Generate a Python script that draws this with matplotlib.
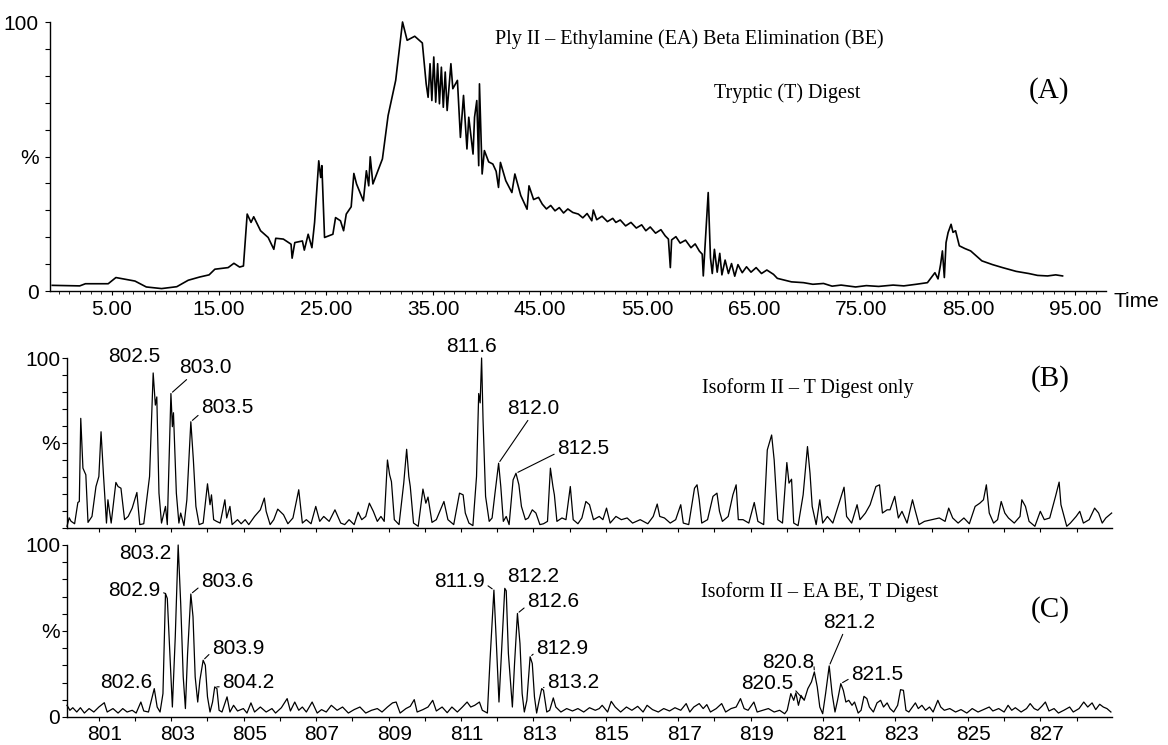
import matplotlib
matplotlib.use("Agg")
import matplotlib.pyplot as plt
from matplotlib.ticker import MultipleLocator
import matplotlib.transforms as mtransforms

# ---------------- data ----------------
# Panel A: total ion chromatogram (time in min, relative intensity %)
A_TIME = [-0.59, 1.98, 2.51, 4.64, 5.36, 7.14, 8.20, 9.63, 11.05, 12.12, 13.19, 14.07, 14.61,
          15.85, 16.39, 16.92, 17.28, 17.63, 17.99, 18.24, 18.88, 19.59, 20.12, 20.30, 21.01,
          21.73, 21.83, 22.08, 22.79, 22.97, 23.33, 23.68, 23.93, 24.32, 24.50, 24.61, 24.86,
          25.64, 25.89, 26.35, 26.64, 26.89, 27.35, 27.60, 27.85, 28.49, 28.77, 28.99, 29.13,
          29.38, 30.27, 30.80, 31.51, 32.15, 32.58, 33.29, 34.00, 34.36, 34.54, 34.72, 34.89,
          35.07, 35.25, 35.43, 35.60, 35.78, 35.96, 36.14, 36.32, 36.67, 36.85, 37.28, 37.56,
          37.85, 38.17, 38.34, 38.74, 38.88, 39.09, 39.27, 39.34, 39.59, 39.80, 40.2, 40.59,
          40.9, 41.12, 41.30, 41.8, 42.37, 42.65, 43.2, 43.79, 43.97, 44.4, 44.86, 45.21,
          45.6, 46.0, 46.4, 46.8, 47.2, 47.6, 48.06, 48.58, 49.0, 49.4, 49.84, 49.98, 50.3,
          50.8, 51.3, 51.8, 52.09, 52.5, 53.0, 53.5, 54.0, 54.5, 54.89, 55.3, 55.8, 56.3,
          56.7, 57.0, 57.18, 57.3, 57.7, 58.1, 58.6, 59.11, 59.5, 59.9, 60.16, 60.26, 60.4,
          60.72, 60.93, 61.1, 61.3, 61.56, 61.8, 62.0, 62.3, 62.61, 62.9, 63.2, 63.5, 63.9,
          64.3, 64.72, 65.2, 65.7, 66.2, 66.82, 67.18, 67.7, 68.5, 69.63, 70.5, 71.5, 72.3,
          73.14, 74.5, 75.5, 76.65, 78.0, 79.0, 80.16, 81.21, 81.91, 82.2, 82.44, 82.61,
          82.79, 82.95, 83.14, 83.42, 83.6, 83.84, 84.19, 84.7, 85.25, 86.30, 87.3, 88.23,
          89.5, 90.68, 91.5, 92.44, 93.2, 93.84]
A_INT = [2.1, 1.9, 2.7, 2.7, 5.0, 3.7, 1.5, 0.9, 1.6, 4.0, 5.2, 6.0, 8.1,
         8.7, 10.3, 8.9, 9.3, 28.6, 25.5, 27.6, 22.4, 19.9, 15.5, 19.6, 19.3,
         17.4, 12.2, 18.0, 18.6, 15.2, 21.1, 16.1, 25.5, 48.4, 42.2, 46.6, 19.9,
         21.1, 27.3, 26.1, 22.4, 28.6, 31.3, 43.7, 39.8, 33.5, 44.7, 39.1, 49.9,
         39.8, 49.1, 65.2, 78.3, 100.0, 93.2, 94.7, 92.2, 77.0, 72.0, 84.5, 70.8,
         87.0, 70.2, 84.5, 69.6, 83.2, 68.3, 81.4, 67.1, 84.5, 75.2, 78.3, 57.1,
         72.7, 52.8, 64.6, 50.9, 64.6, 70.8, 46.6, 77.0, 43.5, 52.2, 48.0, 47.2,
         44.5, 38.5, 47.8, 41.0, 36.6, 43.5, 35.5, 30.4, 39.1, 34.0, 34.8, 32.3,
         30.5, 31.8, 29.8, 31.0, 29.0, 30.5, 29.2, 28.6, 27.2, 28.8, 26.1, 30.1, 26.5,
         27.8, 25.8, 27.0, 25.5, 26.4, 24.2, 25.5, 23.4, 24.6, 22.4, 23.8, 21.5, 22.8,
         20.5, 19.3, 8.7, 19.0, 20.2, 17.8, 18.9, 16.1, 17.5, 14.8, 13.7, 5.6, 14.9,
         36.6, 12.4, 6.5, 15.5, 7.0, 14.0, 6.0, 11.5, 6.5, 10.2, 5.5, 9.8, 6.8,
         9.0, 7.0, 8.7, 6.5, 7.8, 6.2, 4.7, 4.2, 3.4, 3.1, 2.5, 2.8, 1.8,
         2.2, 1.5, 2.0, 1.7, 2.2, 1.9, 2.5, 3.1, 6.8, 4.5, 9.9, 14.9,
         5.0, 18.0, 21.7, 24.8, 21.8, 22.4, 16.8, 15.8, 14.9, 11.2, 9.8, 8.7,
         7.3, 6.5, 5.8, 5.6, 6.0, 5.6]
A_TICKS = [5, 15, 25, 35, 45, 55, 65, 75, 85, 95]

# Panel B: Isoform II - T digest only (m/z, %)
B_MZ = [800.12, 800.18, 800.23, 800.33, 800.42, 800.46, 800.50, 800.56, 800.60, 800.64, 800.70,
        800.81, 800.92, 801.00, 801.06, 801.13, 801.21, 801.25, 801.34, 801.47, 801.53, 801.61,
        801.71, 801.81, 801.92, 802.05, 802.13, 802.24, 802.40, 802.50, 802.56, 802.60, 802.66,
        802.73, 802.84, 802.89, 802.99, 803.03, 803.06, 803.14, 803.21, 803.26, 803.35, 803.43,
        803.54, 803.61, 803.68, 803.77, 803.88, 804.00, 804.07, 804.11, 804.17, 804.25, 804.35,
        804.48, 804.53, 804.62, 804.68, 804.83, 804.93, 805.04, 805.14, 805.30, 805.46, 805.57,
        805.62, 805.73, 805.83, 805.94, 806.10, 806.22, 806.36, 806.52, 806.62, 806.73, 806.86,
        806.99, 807.10, 807.21, 807.36, 807.52, 807.68, 807.79, 807.91, 808.05, 808.16, 808.26,
        808.37, 808.47, 808.58, 808.69, 808.79, 808.88, 808.97, 809.03, 809.08, 809.16, 809.29,
        809.42, 809.50, 809.56, 809.60, 809.69, 809.82, 809.95, 810.03, 810.09, 810.20, 810.32,
        810.53, 810.64, 810.80, 810.96, 811.06, 811.12, 811.22, 811.33, 811.43, 811.49, 811.53,
        811.57, 811.61, 811.68, 811.78, 811.86, 811.94, 812.04, 812.10, 812.17, 812.25, 812.33,
        812.44, 812.52, 812.60, 812.67, 812.78, 812.86, 812.97, 813.07, 813.18, 813.28, 813.39,
        813.47, 813.54, 813.58, 813.65, 813.79, 813.90, 814.02, 814.10, 814.23, 814.34, 814.45,
        814.55, 814.66, 814.82, 814.92, 815.02, 815.12, 815.28, 815.43, 815.59, 815.74, 815.95,
        816.16, 816.31, 816.42, 816.49, 816.62, 816.78, 816.93, 817.07, 817.14, 817.29, 817.45,
        817.52, 817.58, 817.65, 817.81, 817.96, 818.07, 818.14, 818.22, 818.38, 818.51, 818.60,
        818.66, 818.79, 818.95, 819.10, 819.20, 819.36, 819.46, 819.58, 819.65, 819.75, 819.88,
        820.00, 820.06, 820.13, 820.19, 820.31, 820.45, 820.57, 820.64, 820.70, 820.81, 820.91,
        820.99, 821.12, 821.27, 821.43, 821.58, 821.65, 821.79, 821.94, 822.02, 822.17, 822.30,
        822.46, 822.56, 822.64, 822.77, 822.85, 822.98, 823.08, 823.18, 823.32, 823.47, 823.54,
        823.65, 823.80, 824.01, 824.21, 824.37, 824.47, 824.58, 824.73, 824.89, 825.04, 825.20,
        825.33, 825.43, 825.51, 825.59, 825.71, 825.82, 825.92, 826.02, 826.12, 826.28, 826.44,
        826.49, 826.59, 826.69, 826.85, 827.00, 827.11, 827.26, 827.42, 827.52, 827.57, 827.73,
        827.83, 827.99, 828.09, 828.19, 828.35, 828.50, 828.61, 828.71, 828.81, 828.97]
B_INT = [1, 6, 4, 2.5, 15, 15.6, 64.5, 35.2, 33.2, 31.3, 3.3,
         6.8, 24.4, 30.3, 56.6, 30.3, 2.9, 16.6, 2.9, 26.8, 24.4, 23.4,
         4.9, 6.8, 11.7, 20.9, 2, 2.5, 30.3, 91.2, 72.3, 77.1, 20.5,
         2.9, 12.7, 2, 79.1, 59.6, 67.8, 20.5, 2.9, 8.8, 1.4, 16.6,
         62.5, 40, 12.7, 2, 2.9, 26, 13.7, 19.5, 4.9, 3.9, 2.9,
         16.6, 5.9, 12.7, 2, 4.9, 2.5, 4.9, 2, 6.8, 10.7, 17.6,
         9.8, 2, 4.9, 11.1, 7.8, 2.5, 5.9, 22.5, 2.9, 4.9, 2.5,
         12.7, 3.9, 6.8, 3.9, 10.7, 2.9, 2, 4.9, 2, 9.3, 4.9,
         6.8, 14.6, 9.8, 3.9, 6.8, 3.9, 40, 31.3, 27.3, 4.9, 2,
         26.4, 46.3, 30.3, 24.4, 2.9, 1, 22.9, 14.6, 18.2, 3.3, 4.9,
         15.6, 4.9, 2, 20.5, 19.5, 8.8, 2.9, 1.4, 30.3, 79.1, 73.6,
         100, 63.5, 18.6, 3.9, 5.9, 20.5, 38.1, 24.4, 3.9, 6.8, 2,
         28.3, 32.2, 25.4, 12.7, 4.9, 5.9, 10.7, 8.8, 2, 2.5, 3.9,
         35.2, 24.4, 19.5, 3.9, 5.9, 4.9, 24.4, 4.9, 2.5, 5.9, 15.6,
         13.7, 4.9, 6.8, 4.9, 11.7, 2.9, 6.8, 4.9, 5.9, 2.9, 4.9,
         2.5, 6.8, 14.1, 6.8, 5.9, 2.9, 4.9, 13.7, 2.9, 2, 23.4,
         25.4, 16.6, 2.9, 4.9, 18.6, 20.5, 9.8, 3.9, 6.8, 19.5, 25.4,
         4.9, 4.9, 2.9, 15, 3.9, 2, 45.9, 54.7, 40, 4.9, 2.9,
         38.5, 26.4, 28.7, 2.9, 1.4, 19.5, 47.9, 32.2, 12.7, 2, 16.6,
         2.9, 6.8, 2.9, 13.7, 24, 6.8, 2.9, 13.7, 4.9, 8.8, 13.7,
         24.4, 25.4, 8.8, 10.7, 10.7, 18.6, 5.9, 9.8, 2.9, 16.6, 10.7,
         2, 3.9, 4.9, 5.9, 3.9, 11.7, 5.9, 2.9, 5.9, 2.5, 12.7,
         14.6, 16.6, 25.4, 8.8, 2.9, 4.9, 15.6, 8.8, 5.9, 2.9, 6.8,
         16.6, 12.7, 3.9, 1, 9.8, 4.9, 5.9, 18.6, 27, 13.7, 1,
         2.9, 6.8, 9.8, 2.9, 4.9, 11.7, 8.8, 2.9, 5.9, 8.8]

# Panel C: Isoform II - EA BE, T digest (m/z, %)
C_MZ = [800.12, 800.20, 800.28, 800.39, 800.49, 800.60, 800.73, 800.86, 801.00, 801.15, 801.23,
        801.39, 801.53, 801.66, 801.78, 801.92, 802.03, 802.16, 802.24, 802.37, 802.45, 802.53,
        802.61, 802.69, 802.77, 802.84, 802.89, 802.97, 803.03, 803.11, 803.19, 803.26, 803.33,
        803.39, 803.45, 803.54, 803.60, 803.66, 803.73, 803.79, 803.88, 803.94, 804.00, 804.07,
        804.14, 804.20, 804.26, 804.32, 804.40, 804.54, 804.62, 804.72, 804.83, 804.99, 805.09,
        805.20, 805.30, 805.46, 805.62, 805.78, 805.88, 806.04, 806.20, 806.29, 806.41, 806.52,
        806.62, 806.73, 806.89, 807.03, 807.15, 807.28, 807.42, 807.58, 807.73, 807.89, 808.05,
        808.21, 808.37, 808.53, 808.69, 808.82, 808.97, 809.11, 809.21, 809.32, 809.48, 809.60,
        809.71, 809.79, 809.95, 810.09, 810.22, 810.32, 810.48, 810.62, 810.75, 810.90, 811.04,
        811.17, 811.27, 811.38, 811.51, 811.59, 811.68, 811.73, 811.80, 811.91, 811.97, 812.05,
        812.14, 812.21, 812.25, 812.31, 812.42, 812.48, 812.56, 812.63, 812.69, 812.75, 812.82,
        812.91, 812.97, 813.03, 813.09, 813.16, 813.23, 813.28, 813.37, 813.45, 813.55, 813.62,
        813.76, 813.92, 814.08, 814.23, 814.39, 814.55, 814.71, 814.82, 814.90, 815.05, 815.15,
        815.26, 815.41, 815.57, 815.72, 815.88, 816.03, 816.14, 816.29, 816.45, 816.60, 816.76,
        816.91, 817.07, 817.22, 817.32, 817.43, 817.58, 817.69, 817.79, 817.89, 818.05, 818.20,
        818.31, 818.46, 818.60, 818.72, 818.82, 818.93, 819.09, 819.18, 819.34, 819.49, 819.65,
        819.80, 819.94, 820.01, 820.11, 820.19, 820.25, 820.32, 820.39, 820.48, 820.58, 820.68,
        820.76, 820.84, 820.91, 820.99, 821.07, 821.17, 821.25, 821.33, 821.40, 821.49, 821.56,
        821.63, 821.71, 821.80, 821.87, 821.97, 822.05, 822.13, 822.21, 822.28, 822.39, 822.49,
        822.59, 822.67, 822.77, 822.85, 822.95, 823.06, 823.14, 823.22, 823.29, 823.37, 823.47,
        823.55, 823.63, 823.73, 823.83, 823.94, 824.04, 824.17, 824.25, 824.35, 824.50, 824.66,
        824.81, 824.97, 825.12, 825.28, 825.43, 825.59, 825.69, 825.85, 826.00, 826.11, 826.21,
        826.31, 826.47, 826.62, 826.72, 826.83, 826.93, 827.04, 827.14, 827.24, 827.38, 827.50,
        827.65, 827.81, 827.91, 828.07, 828.20, 828.31, 828.43, 828.53, 828.64, 828.74, 828.84,
        828.95]
C_INT = [6.8, 3.9, 5.4, 2.9, 5.4, 2.3, 4.9, 2.9, 5.8, 8.3, 2.9,
         4.9, 2.3, 4.9, 2.9, 3.9, 2.3, 8.7, 3.5, 2.9, 9.7, 16.5,
         5.8, 2.9, 13.6, 71.8, 68.9, 33, 5.8, 46.6, 100, 66, 23.3,
         4.9, 36.9, 71.5, 58.3, 23.3, 8.7, 21.4, 33, 30.1, 11.7, 2.9,
         8.7, 17.5, 16.5, 3.9, 2.9, 11.7, 2.9, 6.8, 3.5, 4.9, 2.3,
         8.2, 2.9, 5.8, 2.9, 4.9, 2.3, 5.4, 10.7, 3.5, 8.7, 3.9,
         5.8, 2.9, 8.7, 2.3, 4.3, 2.9, 6.8, 3.9, 5.8, 2.3, 4.3,
         5.8, 2.3, 3.9, 4.9, 2.9, 5.8, 8.2, 8.7, 2.3, 4.9, 6.2,
         10.1, 2.9, 4.3, 5.8, 9.7, 3.5, 5.8, 2.5, 5.8, 2.9, 5.8,
         8.7, 5.8, 6.8, 8.7, 3.9, 2.9, 2.3, 32, 73.8, 46.6, 8.7,
         46.6, 74.8, 73.4, 36.9, 5.8, 31.1, 60.2, 42.7, 13.6, 2.9, 9.7,
         35, 31.1, 11.7, 2.3, 9.7, 16.5, 15.5, 2.9, 3.9, 11.1, 5.8,
         2.9, 4.9, 3.5, 4.9, 2.9, 5.4, 3.9, 4.9, 6.8, 2.9, 9.1,
         5.8, 2.9, 5.8, 3.9, 6.2, 2.9, 6.8, 4.3, 2.9, 4.9, 3.5,
         5.4, 3.9, 7.8, 2.9, 5.8, 7.8, 4.9, 7.2, 2.9, 4.9, 7.8,
         2.9, 4.9, 5.8, 10.7, 4.9, 3.9, 8.7, 2.9, 3.9, 4.9, 2.9,
         3.9, 1.9, 3.9, 13.6, 9.7, 14, 6.8, 12.6, 9.7, 16.5, 20.4,
         26.2, 17.5, 5.8, 1.9, 13.6, 29.7, 13.6, 2.9, 9.7, 19.4, 15.5,
         8.7, 9.7, 6.8, 8.7, 2.3, 3.9, 12, 10.7, 5.8, 2.9, 8.2,
         9.7, 5.8, 8.2, 4.9, 2.9, 6.8, 15.9, 15.5, 3.9, 2.9, 5.8,
         8.2, 4.9, 6.8, 3.9, 5.8, 2.9, 9.7, 5.8, 3.9, 4.9, 2.9,
         4.3, 2.3, 4.9, 2.9, 4.3, 5.8, 3.5, 4.9, 2.9, 6.8, 3.9,
         5.4, 2.9, 4.9, 7.8, 4.9, 3.9, 6.2, 8.7, 3.5, 4.9, 2.3,
         3.9, 5.8, 2.9, 4.9, 8.7, 5.8, 8.2, 4.3, 7.4, 5.8, 4.9,
         2.9]
MZ_TICKS = list(range(801, 829))
MZ_LABELS = [str(v) if v % 2 == 1 else "" for v in MZ_TICKS]

# peak labels: text, peak m/z, peak %, text position (m/z, %), leader relpos (None = no leader)
B_LABELS = ["802.5", "803.0", "803.5", "811.6", "812.0", "812.5"]
B_PEAK_MZ = [802.50, 802.99, 803.54, 811.57, 812.04, 812.52]
B_PEAK_INT = [91.2, 79.1, 62.5, 100, 38.1, 32.2]
B_TEXT_POS = [(801.99, 101.0), (803.93, 94.5), (804.54, 71.0), (811.30, 106.5), (812.99, 70.5), (814.37, 47.0)]
B_RELPOS = [None, (0.25, 0.1), (0.0, 0.2), None, (0.45, 0.05), (0.0, 0.25)]

C_LABELS = ["803.2", "802.9", "803.6", "803.9", "804.2", "802.6",
            "811.9", "812.2", "812.6", "812.9", "813.2",
            "821.2", "820.8", "820.5", "821.5"]
C_PEAK_MZ = [803.19, 802.84, 803.54, 803.88, 804.20, 802.53,
             811.91, 812.21, 812.56, 812.91, 813.23,
             821.17, 820.76, 820.48, 821.49]
C_PEAK_INT = [100, 71.8, 71.5, 33, 17.5, 16.5,
              73.8, 74.8, 60.2, 35, 16.5,
              29.7, 26.2, 9.7, 19.4]
C_TEXT_POS = [(802.27, 95.3), (801.99, 73.3), (804.54, 78.5), (804.84, 40.1), (805.12, 19.8), (801.75, 19.8),
              (810.97, 78.5), (812.99, 81.4), (813.54, 66.9), (813.79, 40.1), (814.09, 20.3),
              (821.72, 55.2), (820.03, 31.4), (819.45, 19.2), (822.49, 25.0)]
C_RELPOS = [None, (1.0, 0.45), (0.0, 0.3), (0.0, 0.3), (0.0, 0.3), None,
            (1.0, 0.4), None, (0.0, 0.3), (0.0, 0.3), (0.0, 0.3),
            (0.4, 0.0), (1.0, 0.3), (1.0, 0.3), (0.0, 0.3)]

# ---------------- drawing ----------------
SANS = "Liberation Sans"
SERIF = "Liberation Serif"
FS = 15

W, H = 1168, 745
fig = plt.figure(figsize=(W / 100, H / 100), dpi=100)

axA = fig.add_axes([50 / W, 1 - 291 / H, 1056 / W, 269 / H])
axB = fig.add_axes([67 / W, 1 - 528 / H, 1045 / W, 170 / H])
axC = fig.add_axes([67 / W, 1 - 717 / H, 1045 / W, 172 / H])


def style_axis(ax, ylabels, ypad):
    for s in ("top", "right"):
        ax.spines[s].set_visible(False)
    for s in ("left", "bottom"):
        ax.spines[s].set_linewidth(1.0)
    ax.set_ylim(0, 100)
    ax.set_yticks(list(range(0, 101, 10)))
    ax.set_yticklabels(ylabels, fontfamily=SANS, fontsize=FS)
    ax.tick_params(axis="y", direction="out", length=3.5, width=0.8, pad=ypad)


ylabA = ["0", "", "", "", "", "%", "", "", "", "", "100"]
ylabB = ["", "", "", "", "", "%", "", "", "", "", "100"]
ylabC = ["0", "", "", "", "", "%", "", "", "", "", "100"]

# Panel A
axA.plot(A_TIME, A_INT, color="black", lw=1.2, clip_on=False)
axA.set_xlim(-0.8, 97.9)
style_axis(axA, ylabA, 4.5)
axA.set_xticks(A_TICKS)
axA.set_xticklabels([f"{t:.2f}" for t in A_TICKS], fontfamily=SANS, fontsize=FS)
axA.xaxis.set_minor_locator(MultipleLocator(1))
axA.tick_params(axis="x", which="major", direction="out", length=3, width=0.8, pad=3.5)
axA.tick_params(axis="x", which="minor", direction="out", length=2, width=0.6)
fig.text(1136 / W, 1 - 301 / H, "Time", ha="center", va="center", fontfamily=SANS, fontsize=FS)
axA.text(0.605, 0.935, "Ply II \u2013 Ethylamine (EA) Beta Elimination (BE)", transform=axA.transAxes,
         ha="center", va="center", fontfamily=SERIF, fontsize=14.5)
axA.text(0.698, 0.735, "Tryptic (T) Digest", transform=axA.transAxes,
         ha="center", va="center", fontfamily=SERIF, fontsize=14.5)
axA.text(0.946, 0.745, "(A)", transform=axA.transAxes,
         ha="center", va="center", fontfamily=SERIF, fontsize=21)

# Panel B
axB.plot(B_MZ, B_INT, color="black", lw=0.9, clip_on=False)
axB.set_xlim(800.12, 828.98)
style_axis(axB, ylabB, 1.5)
axB.set_xticks(MZ_TICKS)
axB.set_xticklabels([])
axB.tick_params(axis="x", direction="out", length=3, width=0.8)
axB.text(0.709, 0.825, "Isoform II \u2013 T Digest only", transform=axB.transAxes,
         ha="center", va="center", fontfamily=SERIF, fontsize=14.5)
axB.text(0.941, 0.88, "(B)", transform=axB.transAxes,
         ha="center", va="center", fontfamily=SERIF, fontsize=21)

# Panel C
axC.plot(C_MZ, C_INT, color="black", lw=0.9, clip_on=False)
axC.set_xlim(800.12, 828.98)
style_axis(axC, ylabC, 1.5)
axC.set_xticks(MZ_TICKS)
axC.set_xticklabels(MZ_LABELS, fontfamily=SANS, fontsize=FS)
axC.tick_params(axis="x", direction="out", length=3, width=0.8, pad=3)
shift = mtransforms.ScaledTranslation(6 / 100, 0, fig.dpi_scale_trans)
for lab in axC.get_xticklabels():
    lab.set_transform(lab.get_transform() + shift)
axC.text(0.72, 0.727, "Isoform II \u2013 EA BE, T Digest", transform=axC.transAxes,
         ha="center", va="center", fontfamily=SERIF, fontsize=14.5)
axC.text(0.941, 0.622, "(C)", transform=axC.transAxes,
         ha="center", va="center", fontfamily=SERIF, fontsize=21)


def add_labels(ax, labels, pmz, pint, tpos, relpos):
    for lab, x, y, tp, rp in zip(labels, pmz, pint, tpos, relpos):
        if rp is None:
            ax.annotate(lab, xy=(x, y), xytext=tp, textcoords="data", ha="center", va="center",
                        fontfamily=SANS, fontsize=FS, annotation_clip=False)
        else:
            ax.annotate(lab, xy=(x, y), xytext=tp, textcoords="data", ha="center", va="center",
                        fontfamily=SANS, fontsize=FS, annotation_clip=False,
                        arrowprops=dict(arrowstyle="-", lw=0.8, color="black",
                                        shrinkA=0, shrinkB=1.5, relpos=rp))


add_labels(axB, B_LABELS, B_PEAK_MZ, B_PEAK_INT, B_TEXT_POS, B_RELPOS)
add_labels(axC, C_LABELS, C_PEAK_MZ, C_PEAK_INT, C_TEXT_POS, C_RELPOS)

fig.savefig("out.png", dpi=100)
